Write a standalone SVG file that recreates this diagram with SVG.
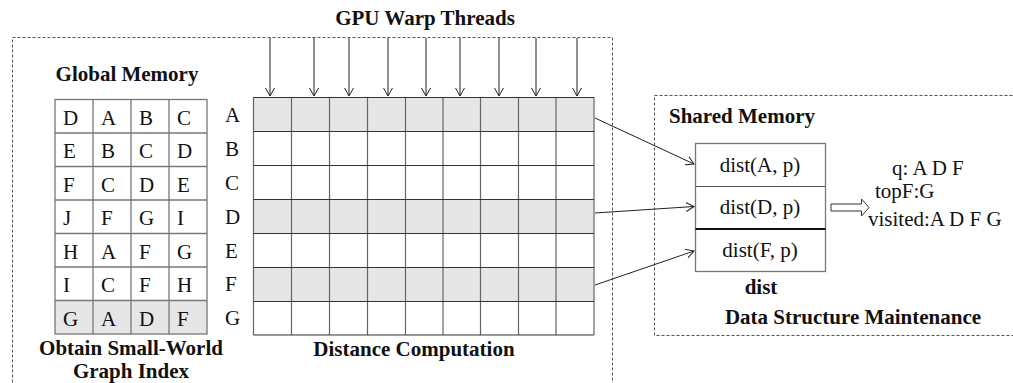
<svg xmlns="http://www.w3.org/2000/svg" width="1013" height="383" viewBox="0 0 1013 383" font-family="'Liberation Serif', 'DejaVu Serif', serif">
<style>
text{font-family:'Liberation Serif','DejaVu Serif',serif}
.t{font-size:21px;fill:#111}
.b{font-size:21px;font-weight:bold;fill:#111}
.dash{fill:none;stroke:#555;stroke-width:1;stroke-dasharray:3,2}
.gl{stroke:#777;stroke-width:1.3;fill:none}
.gd{stroke:#333;stroke-width:1;fill:none}
.gv{stroke:#666;stroke-width:1.2;fill:none}
.sh{fill:#e6e6e6}
.ar{stroke:#222;stroke-width:1;fill:none;marker-end:url(#open)}
</style>
<defs>
<marker id="open" markerUnits="userSpaceOnUse" markerWidth="12" markerHeight="12" refX="8" refY="5" orient="auto">
<path d="M0,0.5 L8,5 L0,9.5" fill="none" stroke="#222" stroke-width="1"/>
</marker>
</defs>
<rect width="1013" height="383" fill="#fff"/>

<g id="frames">
<rect class="dash" x="12.5" y="37.5" width="600" height="360"/>
<rect class="dash" x="654.5" y="95.5" width="380" height="240"/>
</g>

<text class="b" x="425" y="25" text-anchor="middle">GPU Warp Threads</text>

<g id="global-memory">
<text class="b" x="127" y="81" text-anchor="middle">Global Memory</text>
<rect class="sh" x="55" y="300.5" width="152" height="33.5"/>
<g class="gl">
<rect x="55" y="99.5" width="152" height="234.5"/>
<line x1="93" y1="99.5" x2="93" y2="334"/>
<line x1="131" y1="99.5" x2="131" y2="334"/>
<line x1="169" y1="99.5" x2="169" y2="334"/>
<line x1="55" y1="133" x2="207" y2="133"/>
<line x1="55" y1="166.5" x2="207" y2="166.5"/>
<line x1="55" y1="200" x2="207" y2="200"/>
<line x1="55" y1="233.5" x2="207" y2="233.5"/>
<line x1="55" y1="267" x2="207" y2="267"/>
<line x1="55" y1="300.5" x2="207" y2="300.5"/>
</g>
<g class="t">
<text x="63" y="124.5">D</text><text x="101" y="124.5">A</text><text x="139" y="124.5">B</text><text x="177" y="124.5">C</text>
<text x="63" y="158">E</text><text x="101" y="158">B</text><text x="139" y="158">C</text><text x="177" y="158">D</text>
<text x="63" y="191.5">F</text><text x="101" y="191.5">C</text><text x="139" y="191.5">D</text><text x="177" y="191.5">E</text>
<text x="63" y="225">J</text><text x="101" y="225">F</text><text x="139" y="225">G</text><text x="177" y="225">I</text>
<text x="63" y="258.5">H</text><text x="101" y="258.5">A</text><text x="139" y="258.5">F</text><text x="177" y="258.5">G</text>
<text x="63" y="292">I</text><text x="101" y="292">C</text><text x="139" y="292">F</text><text x="177" y="292">H</text>
<text x="63" y="325.5">G</text><text x="101" y="325.5">A</text><text x="139" y="325.5">D</text><text x="177" y="325.5">F</text>
</g>
<text class="b" x="131" y="355" text-anchor="middle">Obtain Small-World</text>
<text class="b" x="131" y="378" text-anchor="middle">Graph Index</text>
</g>

<g id="row-labels" class="t">
<text x="225" y="122">A</text>
<text x="225" y="156">B</text>
<text x="225" y="189.5">C</text>
<text x="225" y="223.5">D</text>
<text x="225" y="257.5">E</text>
<text x="225" y="291">F</text>
<text x="225" y="325">G</text>
</g>

<g id="distance-grid">
<rect class="sh" x="253.5" y="97" width="340.5" height="34"/>
<rect class="sh" x="253.5" y="199" width="340.5" height="34"/>
<rect class="sh" x="253.5" y="267" width="340.5" height="34"/>
<g class="gv">
<line x1="253.5" y1="97" x2="253.5" y2="335"/>
<line x1="291.5" y1="97" x2="291.5" y2="335"/>
<line x1="329.5" y1="97" x2="329.5" y2="335"/>
<line x1="367.5" y1="97" x2="367.5" y2="335"/>
<line x1="405.5" y1="97" x2="405.5" y2="335"/>
<line x1="443" y1="97" x2="443" y2="335"/>
<line x1="480.5" y1="97" x2="480.5" y2="335"/>
<line x1="518.5" y1="97" x2="518.5" y2="335"/>
<line x1="556" y1="97" x2="556" y2="335"/>
<line x1="594" y1="97" x2="594" y2="335"/>
</g>
<g class="gd">
<line x1="253.5" y1="97.5" x2="594" y2="97.5"/>
<line x1="253.5" y1="131.5" x2="594" y2="131.5"/>
<line x1="253.5" y1="165.5" x2="594" y2="165.5"/>
<line x1="253.5" y1="199.5" x2="594" y2="199.5"/>
<line x1="253.5" y1="233.5" x2="594" y2="233.5"/>
<line x1="253.5" y1="267.5" x2="594" y2="267.5"/>
<line x1="253.5" y1="301.5" x2="594" y2="301.5"/>
<line x1="253.5" y1="335" x2="594" y2="335"/>
</g>
<text class="b" x="414" y="356" text-anchor="middle">Distance Computation</text>
</g>

<g id="shared-memory">
<text class="b" x="669" y="123">Shared Memory</text>
<rect x="695.5" y="143.5" width="130" height="128" fill="#fff" stroke="#777" stroke-width="1.3"/>
<line x1="695.5" y1="186.5" x2="825.5" y2="186.5" stroke="#555" stroke-width="1.2"/>
<line x1="695.5" y1="229" x2="825.5" y2="229" stroke="#111" stroke-width="2"/>
<text class="t" x="760" y="172" text-anchor="middle">dist(A, p)</text>
<text class="t" x="760" y="214" text-anchor="middle">dist(D, p)</text>
<text class="t" x="760" y="256.5" text-anchor="middle">dist(F, p)</text>
<text class="b" x="761" y="294" text-anchor="middle">dist</text>
<text class="b" x="853" y="324" text-anchor="middle">Data Structure Maintenance</text>
</g>

<g id="state">
<path d="M831,204 L861.5,204 L861.5,199 L869,207.5 L861.5,216 L861.5,211 L831,211 Z" fill="#fff" stroke="#333" stroke-width="1"/>
<text class="t" x="892" y="175">q: A D F</text>
<text class="t" x="875" y="198">topF:G</text>
<text class="t" x="868" y="226">visited:A D F G</text>
</g>

<g id="connectors">
<line class="ar" x1="270" y1="38" x2="270" y2="96"/>
<line class="ar" x1="314" y1="38" x2="314" y2="96"/>
<line class="ar" x1="349" y1="38" x2="349" y2="96"/>
<line class="ar" x1="388" y1="38" x2="388" y2="96"/>
<line class="ar" x1="426" y1="38" x2="426" y2="96"/>
<line class="ar" x1="460" y1="38" x2="460" y2="96"/>
<line class="ar" x1="499" y1="38" x2="499" y2="96"/>
<line class="ar" x1="536" y1="38" x2="536" y2="96"/>
<line class="ar" x1="577" y1="38" x2="577" y2="96"/>
<line class="ar" x1="595" y1="118" x2="694" y2="164"/>
<line class="ar" x1="595" y1="213" x2="694" y2="206.5"/>
<line class="ar" x1="595" y1="285" x2="694" y2="251"/>
</g>
</svg>
